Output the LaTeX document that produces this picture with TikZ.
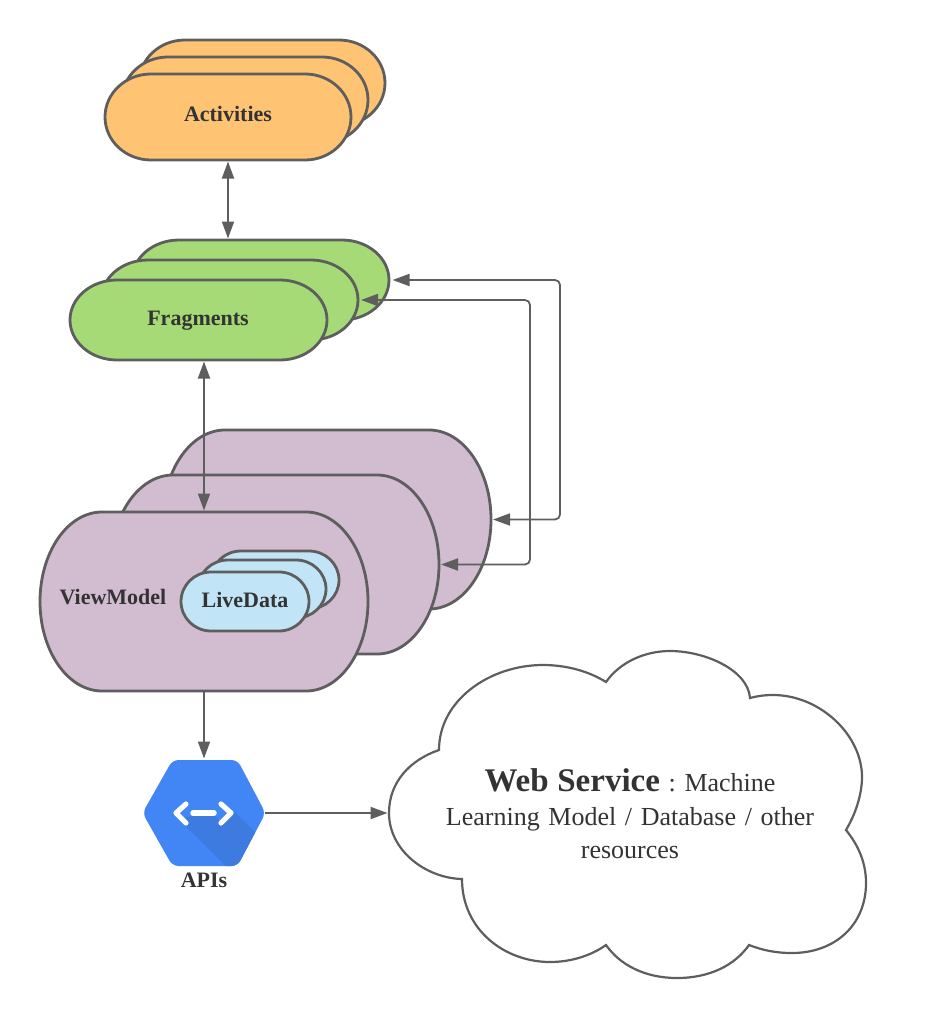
\documentclass[tikz,border=0pt]{standalone}
\usepackage{fontspec}
\setmainfont{Liberation Serif}
\usetikzlibrary{arrows.meta,calc}
\frenchspacing

\definecolor{edgegray}{HTML}{5E5E5E}
\definecolor{textgray}{HTML}{333333}
\definecolor{activityfill}{HTML}{FFC374}
\definecolor{fragmentfill}{HTML}{A5DA76}
\definecolor{modelfill}{HTML}{D2BCD0}
\definecolor{livefill}{HTML}{C1E4F7}
\definecolor{hexfill}{HTML}{4285F4}
\definecolor{hexshade}{HTML}{3D7BE0}

% name, left, top, width, height, corner width, colour
\newcommand{\termbox}[7]{
    \node[termnode, minimum width=#4pt, minimum height=#5pt] (#1) at (#2+#4/2,-#3-#5/2) {};
    \draw[termline, fill=#7] ($(#1.north west)+(#6pt,0)$) -- ($(#1.north east)-(#6pt,0)$)
    arc[start angle=90, end angle=-90, x radius=#6pt, y radius=#5pt/2]
    -- ($(#1.south west)+(#6pt,0)$)
    arc[start angle=270, end angle=90, x radius=#6pt, y radius=#5pt/2] -- cycle;
}

\begin{document}
\begin{tikzpicture}[x=1pt,y=1pt,>={Triangle[length=17pt,width=12pt]},
    termnode/.style={draw=none,fill=none,inner sep=0pt,outer sep=0pt},
    termline/.style={draw=edgegray,line width=2.8pt},
    link/.style={draw=edgegray,line width=1.8pt,shorten >=1.5pt,shorten <=1.5pt},
    boxlabel/.style={text=textgray,font=\bfseries\fontsize{22}{24}\selectfont,inner sep=0pt,anchor=base}]
    \useasboundingbox (0,0) rectangle (934,-1028);

    % activities
    \termbox{actBack}{139}{40}{246}{86}{46}{activityfill}
    \termbox{actMid}{122}{57}{246}{86}{46}{activityfill}
    \termbox{actFront}{105}{74}{246}{86}{46}{activityfill}
    \node[boxlabel] (actText) at (228,-121) {Activities};

    % fragments
    \termbox{fragBack}{132}{240}{257}{80}{47}{fragmentfill}
    \termbox{fragMid}{101}{260}{257}{80}{47}{fragmentfill}
    \termbox{fragFront}{70}{280}{257}{80}{47}{fragmentfill}
    \node[boxlabel] (fragText) at (198,-325) {Fragments};

    % view models
    \termbox{modelBack}{163}{430}{328}{179}{62}{modelfill}
    \termbox{modelMid}{111}{475}{328}{179}{62}{modelfill}
    \termbox{modelFront}{40}{512}{328}{179}{62}{modelfill}
    \node[boxlabel] (modelText) at (113,-604) {ViewModel};

    % live data
    \termbox{liveBack}{211}{551}{128}{58}{30}{livefill}
    \termbox{liveMid}{198}{560}{128}{58}{30}{livefill}
    \termbox{liveFront}{181}{572}{128}{59}{30}{livefill}
    \node[boxlabel] (liveText) at (245,-607) {LiveData};

    % apis
    \node[termnode, minimum width=121pt, minimum height=106pt] (apiHex) at (204,-813) {};
    \begin{scope}
        \clip[rounded corners=6pt] ($(apiHex.west)-(1,0)$) -- ++(30,53) -- ++(65,0) -- ($(apiHex.east)+(1,0)$) -- ++(-28,-53) -- ++(-65,0) -- cycle;
        \fill[hexfill] (130,-750) rectangle (280,-880);
        \fill[hexshade] (179,-819) -- (230,-870) -- (268,-870) -- (268,-845) -- (235,-812) -- (222,-823) -- (215,-816) -- (192,-816) -- cycle;
    \end{scope}
    \draw[white,line width=5.2pt,line cap=round,line join=round] (186,-804) -- (176,-813) -- (186,-823);
    \draw[white,line width=5.2pt,line cap=round,line join=round] (221,-804) -- (231,-813) -- (221,-823);
    \draw[white,line width=5.5pt,line cap=round] (193,-813) -- (214,-813);
    \node[boxlabel] (apiText) at (204,-887) {APIs};

    % cloud
    \draw[draw=edgegray,line width=2.2pt,fill=white] (439,-750)
    .. controls (439,-700) and (490,-665) .. (543,-665)
    .. controls (568,-665) and (590,-672) .. (606,-682)
    .. controls (620,-662) and (645,-651) .. (670,-651)
    .. controls (705,-651) and (748,-670) .. (750,-698)
    .. controls (757,-696) and (765,-695) .. (773,-695)
    .. controls (820,-695) and (862,-735) .. (862,-777)
    .. controls (862,-795) and (855,-815) .. (846,-830)
    .. controls (858,-845) and (866,-862) .. (866,-883)
    .. controls (866,-925) and (835,-953) .. (792,-953)
    .. controls (775,-953) and (762,-950) .. (749,-945)
    .. controls (735,-965) and (710,-978) .. (677,-978)
    .. controls (645,-978) and (620,-965) .. (606,-945)
    .. controls (592,-955) and (572,-962) .. (550,-962)
    .. controls (505,-962) and (462,-930) .. (462,-879)
    .. controls (425,-878) and (389,-850) .. (389,-813)
    .. controls (389,-782) and (410,-760) .. (439,-750) -- cycle;
    \coordinate (cloudWest) at (389,-813);
    \node[text=textgray,inner sep=0pt,align=center,text width=400pt,font=\fontsize{26}{33.5}\selectfont] (cloudText) at (630,-814)
    {{\bfseries\fontsize{33}{33.5}\selectfont Web Service} : Machine\\Learning Model / Database / other\\resources};

    % connectors
    \coordinate (outerBus) at (560,-400);
    \coordinate (innerBus) at (530,-400);
    \draw[link,<->] (actText |- actFront.south) -- (actText |- fragBack.north);
    \draw[link,<->] (apiHex.north |- fragFront.south) -- (apiHex.north |- modelFront.north);
    \draw[link,->,shorten <=0pt] (apiHex.north |- modelFront.south) -- (apiHex.north);
    \draw[link,->,shorten <=0pt] (apiHex.east) -- (cloudWest);
    \draw[link,<->,rounded corners=5pt,shorten >=2pt,shorten <=3.5pt] (fragBack.east) -| (outerBus) |- (modelBack.east);
    \draw[link,<->,rounded corners=5pt,shorten >=2pt,shorten <=3pt] (fragMid.east) -| (innerBus) |- (modelMid.east);
\end{tikzpicture}
\end{document}
